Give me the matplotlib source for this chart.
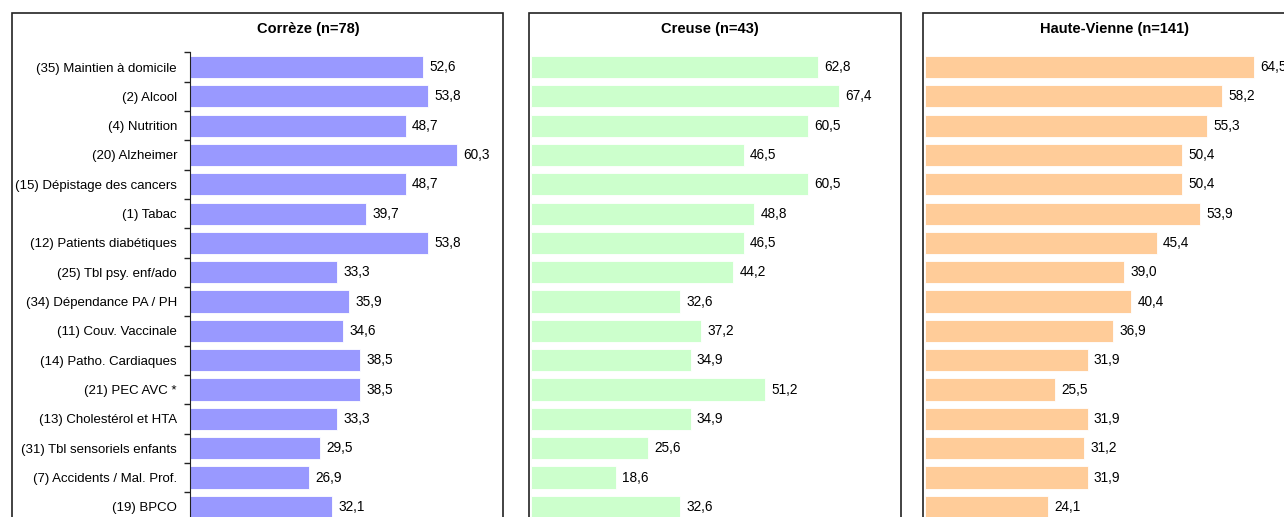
import numpy as np
import matplotlib.pyplot as plt
from matplotlib.patches import Rectangle
from matplotlib.ticker import FixedLocator

FONT = ["Liberation Sans Narrow", "Liberation Sans", "DejaVu Sans"]
plt.rcParams["font.family"] = FONT

categories = [
    "(35) Maintien à domicile",
    "(2) Alcool",
    "(4) Nutrition",
    "(20) Alzheimer",
    "(15) Dépistage des cancers",
    "(1) Tabac",
    "(12) Patients diabétiques",
    "(25) Tbl psy. enf/ado",
    "(34) Dépendance PA / PH",
    "(11) Couv. Vaccinale",
    "(14) Patho. Cardiaques",
    "(21) PEC AVC *",
    "(13) Cholestérol et HTA",
    "(31) Tbl sensoriels enfants",
    "(7) Accidents / Mal. Prof.",
    "(19) BPCO",
]
correze = [52.6, 53.8, 48.7, 60.3, 48.7, 39.7, 53.8, 33.3, 35.9, 34.6, 38.5, 38.5, 33.3, 29.5, 26.9, 32.1]
creuse = [62.8, 67.4, 60.5, 46.5, 60.5, 48.8, 46.5, 44.2, 32.6, 37.2, 34.9, 51.2, 34.9, 25.6, 18.6, 32.6]
haute_vienne = [64.5, 58.2, 55.3, 50.4, 50.4, 53.9, 45.4, 39.0, 40.4, 36.9, 31.9, 25.5, 31.9, 31.2, 31.9, 24.1]

titles = ["Corrèze (n=78)", "Creuse (n=43)", "Haute-Vienne (n=141)"]
colors = ["#9999FF", "#CCFFCC", "#FFCC99"]

W, H = 1284, 517
fig = plt.figure(figsize=(W / 100, H / 100), dpi=100)


def fx(x):
    return x / W


def fy(y):
    return 1 - y / H


# panel frames (left, right) in pixels, title centre, plot area (left px, px per unit)
frames = [(12, 503), (529, 901), (923, 1320)]
title_x = [308, 710, 1115]
plot_left = [189.5, 531, 925]
scale = [4.44, 4.575, 5.10]
plot_right = [503, 898, 1320]

n = len(categories)
row_top, row_step = 67, 29.33
ax_top = row_top - row_step / 2
ax_bot = row_top + row_step * (n - 0.5)

for i, vals in enumerate([correze, creuse, haute_vienne]):
    l, r = frames[i]
    fig.patches.append(Rectangle((fx(l), fy(H + 40)), fx(r - l), fy(13) - fy(H + 40),
                                 transform=fig.transFigure, fill=False,
                                 edgecolor="#222222", linewidth=1.2))
    fig.text(fx(title_x[i]), fy(29.5), titles[i], ha="center", va="center",
             fontsize=10.5, fontweight="bold")

    width_px = plot_right[i] - plot_left[i]
    ax = fig.add_axes([fx(plot_left[i]), fy(ax_bot), fx(width_px), (ax_bot - ax_top) / H])
    ax.set_facecolor("none")
    y = np.arange(n)
    ax.barh(y, vals, height=0.76, color=colors[i], edgecolor="white", linewidth=0.6)
    ax.set_xlim(0, width_px / scale[i])
    ax.set_ylim(n - 0.5, -0.5)
    for yi, v in zip(y, vals):
        ax.annotate(f"{v:.1f}".replace(".", ","), (v, yi), xytext=(4.5, 0),
                    textcoords="offset points", va="center", ha="left",
                    fontsize=9.8, annotation_clip=False)
    ax.set_xticks([])
    for s in ["top", "right", "bottom"]:
        ax.spines[s].set_visible(False)
    if i == 0:
        ax.set_yticks(y)
        ax.set_yticklabels(categories, fontsize=9.5)
        ax.tick_params(axis="y", which="major", length=0, pad=9)
        ax.yaxis.set_minor_locator(FixedLocator(np.arange(-0.5, n, 1.0)))
        ax.tick_params(axis="y", which="minor", length=4, width=1, color="#222222")
        ax.spines["left"].set_color("#222222")
    else:
        ax.set_yticks([])
        ax.spines["left"].set_visible(False)

fig.savefig("out.png", dpi=100)
